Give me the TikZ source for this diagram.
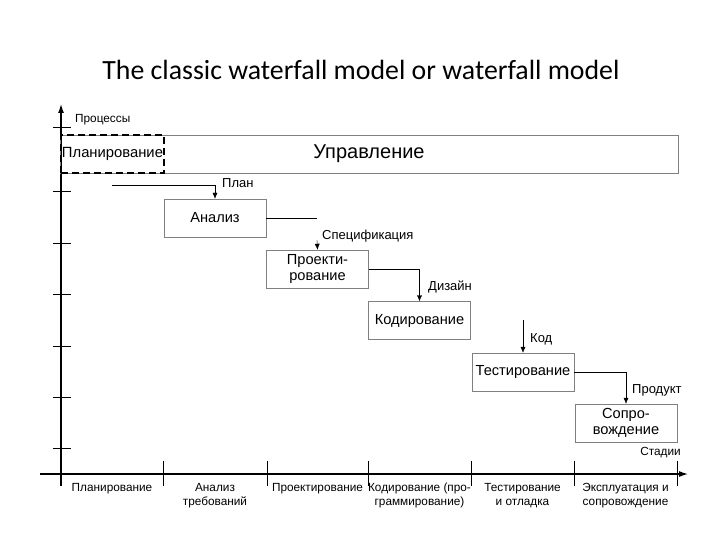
\documentclass[tikz,border=0pt]{standalone}
\usepackage{fontspec}
\setmainfont{Liberation Sans}
\newfontfamily\titlefont{Carlito}
\usetikzlibrary{arrows.meta}

\def\boxfont{\fontsize{14.6}{16.5}\selectfont}
\def\lblfont{\fontsize{13}{15}\selectfont}
\def\stagefont{\fontsize{11.8}{14.5}\selectfont}

\begin{document}
\begin{tikzpicture}[x=1pt, y=-1pt,
    phase/.style={draw=gray, minimum width=102pt, minimum height=38pt, inner sep=0pt, align=center, font=\boxfont},
    flow/.style={-{Latex[length=6pt,width=5pt]}},
    lbl/.style={anchor=west, inner sep=0pt, font=\lblfont},
    stage/.style={anchor=base, align=center, inner sep=0pt, font=\stagefont}]
  \useasboundingbox (0,0) rectangle (720,540);

  \node[font=\titlefont\fontsize{27.8}{32}\selectfont] (title) at (361,70) {The classic waterfall model or waterfall model};

  % axes
  \draw[line width=1.2pt, -{Latex[length=9pt,width=6pt]}] (61,486) -- (61,104);
  \draw[line width=1.2pt, -{Latex[length=9pt,width=6pt]}] (40,474) -- (688,474);
  \foreach \y in {128,192,243,294,346,397,448}
    \draw[line width=1pt] (53,\y) -- (71,\y);
  \foreach \x in {163,267,368,471,574,677}
    \draw[line width=1pt] (\x,461) -- (\x,486);
  \node[lbl, font=\stagefont] (proc) at (75,120) {Процессы};
  \node[anchor=east, inner sep=0pt, font=\stagefont] (stad) at (681,453) {Стадии};

  % processes
  \node[phase, minimum width=618pt, font=\fontsize{20}{23}\selectfont] (upr) at (369,154) {Управление};
  \node[phase, draw=black, line width=2.5pt, dash pattern=on 7pt off 4pt, minimum width=103pt, font=\fontsize{14.8}{17}\selectfont] (plan) at (112.5,154) {Планирование};
  \node[phase] (anal) at (215,218) {Анализ};
  \node[phase] (proekt) at (317.5,269) {Проекти-\\рование};
  \node[phase] (kod) at (419.5,320.5) {Кодирование};
  \node[phase] (test) at (523,372) {Тестирование};
  \node[phase] (sopr) at (626,423) {Сопро-\\вождение};

  % results
  \coordinate (p0) at (112,185);
  \draw[flow] (p0) -| (anal.north);
  \node[lbl] (lplan) at (222,183) {План};

  \coordinate (s0) at (317,218);
  \coordinate (s1) at (317,240);
  \draw (anal.east) -- (s0);
  \draw[flow] (s1) -- (proekt.north);
  \node[lbl] (lspec) at (322,236) {Спецификация};

  \draw[flow] (proekt.east) -| (kod.north);
  \node[lbl] (ldiz) at (428,287) {Дизайн};

  \coordinate (k0) at (523,320);
  \draw[flow] (k0) -- (test.north);
  \node[lbl] (lkod) at (530,339) {Код};

  \draw[flow] (test.east) -| (sopr.north);
  \node[lbl] (lprod) at (632,390) {Продукт};

  % stages (base = last line)
  \node[stage] (st1) at (112,491) {Планирование};
  \node[stage] (st2) at (215,505.5) {Анализ\\требований};
  \node[stage] (st3) at (317.5,491) {Проектирование};
  \node[stage] (st4) at (419.5,505.5) {Кодирование (про-\\граммирование)};
  \node[stage] (st5) at (522.5,505.5) {Тестирование\\и отладка};
  \node[stage] (st6) at (625.5,505.5) {Эксплуатация и\\сопровождение};
\end{tikzpicture}
\end{document}
